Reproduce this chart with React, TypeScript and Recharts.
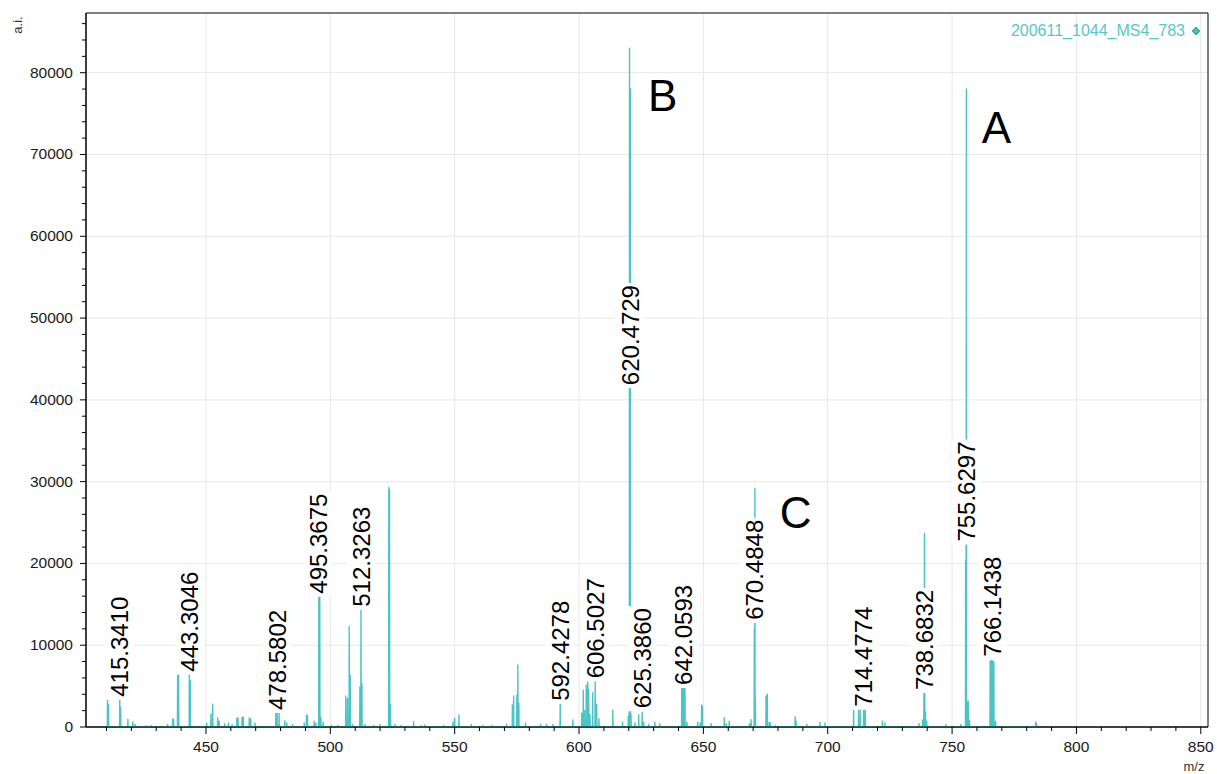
import { LineChart, Line, XAxis, YAxis, CartesianGrid, ReferenceArea } from "recharts";

// m/z and intensity of every visible peak
const peakMz = [
    410.4, 410.8, 415.34, 415.7, 418.6, 420.6, 421.5, 425.9, 428.0, 434.6, 436.6, 437.0, 438.6, 439.0,
    443.3, 443.7, 450.3, 452.0, 452.7, 454.7, 455.3, 457.5, 459.0, 460.5, 462.4, 462.9, 464.5, 465.0,
    467.4, 468.0, 469.7, 478.1, 478.58, 479.4, 481.7, 482.5, 484.8, 489.5, 490.4, 490.8, 493.5, 494.2,
    495.37, 495.75, 496.2, 497.1, 500.5, 503.0, 506.2, 506.9, 507.6, 508.0, 508.9, 511.9, 512.33, 512.7,
    514.0, 517.5, 520.0, 523.5, 523.8, 524.2, 526.0, 528.5, 533.5, 536.5, 538.0, 545.5, 549.3, 550.0,
    551.7, 556.7, 561.4, 565.0, 570.8, 573.2, 573.7, 575.0, 575.4, 575.8, 578.5, 584.5, 587.0, 589.5,
    592.43, 597.5, 601.1, 601.7, 602.2, 602.9, 603.5, 603.9, 604.4, 605.5, 606.5, 607.1, 608.0, 613.6,
    617.5, 619.8, 620.1, 620.3, 620.47, 620.65, 620.9, 622.5, 624.0, 625.39, 626.0, 628.0, 630.5, 632.5,
    641.3, 641.6, 641.9, 642.06, 642.3, 642.6, 643.4, 647.7, 648.7, 649.3, 649.6, 653.1, 658.4, 659.2,
    660.4, 668.5, 669.2, 670.48, 670.7, 670.9, 675.2, 675.7, 676.5, 677.0, 679.0, 686.9, 687.3, 691.6,
    696.9, 698.9, 710.4, 712.4, 713.1, 714.48, 715.1, 722.0, 723.0, 736.7, 738.1, 738.68, 738.9, 738.95,
    739.3, 739.8, 747.5, 753.5, 755.45, 755.63, 755.75, 756.0, 756.5, 757.0, 765.3, 765.55, 765.8, 766.05,
    766.3, 766.55, 766.8, 767.5, 783.6, 784.0,
];
const peakIntensity = [
    3600, 2800, 3600, 2400, 940, 650, 300, 150, 150, 300, 980, 900, 6500, 6400,
    6500, 5700, 450, 1600, 2800, 1140, 700, 400, 500, 300, 1100, 1100, 1200, 1200,
    1100, 1000, 500, 1870, 1900, 1900, 760, 500, 300, 500, 1430, 1400, 700, 500,
    16400, 16200, 1200, 600, 200, 200, 3800, 3500, 12300, 6350, 300, 4900, 14400, 5300,
    300, 200, 300, 29300, 29000, 2700, 300, 200, 650, 200, 250, 200, 650, 1060,
    1470, 300, 200, 200, 300, 2700, 3800, 3900, 7580, 2900, 500, 300, 300, 300,
    2900, 850, 1700, 4500, 2000, 5100, 5750, 4600, 1500, 4200, 5700, 2800, 1000, 2050,
    600, 1300, 1700, 83000, 41800, 78000, 1500, 500, 1500, 1800, 600, 300, 600, 400,
    4800, 4850, 4850, 4900, 4850, 4750, 600, 600, 500, 2700, 2500, 400, 1140, 400,
    700, 400, 900, 12000, 29200, 3500, 3800, 4000, 600, 500, 200, 1260, 700, 300,
    600, 500, 2240, 2240, 2200, 2240, 2100, 700, 500, 400, 850, 4400, 23700, 22800,
    1870, 700, 300, 300, 20400, 22500, 78000, 3000, 3200, 800, 8000, 8100, 8050, 8100,
    8000, 8050, 7900, 700, 650, 400,
];

// annotated peaks and the intensity where each label starts
const labelText = [
    "415.3410", "443.3046", "478.5802", "495.3675", "512.3263", "592.4278", "606.5027", "620.4729",
    "625.3860", "642.0593", "670.4848", "714.4774", "738.6832", "755.6297", "766.1438",
];
const labelBase = [3700, 6760, 2080, 16300, 14700, 3200, 5950, 41800, 2290, 5140, 13100, 2480, 4530, 22670, 8600];

const letterText = ["B", "A", "C"];
const letterMz = [627.7, 761.9, 680.7];
const letterBase = [75280, 71360, 24360];

const xMajorTicks = [450, 500, 550, 600, 650, 700, 750, 800, 850];
const yMajorTicks = [0, 10000, 20000, 30000, 40000, 50000, 60000, 70000, 80000];
const xAllTicks = Array.from({ length: 45 }, (_, i) => 410 + i * 10);
const yAllTicks = Array.from({ length: 44 }, (_, i) => i * 2000);

const X_DOMAIN = [401.76, 852.9];
const Y_DOMAIN = [0, 87300];

const TEAL = "#4cc4c4";
const FONT = "'Liberation Sans', Arial, sans-serif";

const spectrum = peakMz.flatMap((m, i) => [
    { mz: m - 0.08, ai: 0 },
    { mz: m, ai: peakIntensity[i] },
    { mz: m + 0.08, ai: 0 },
]);
const labelPoints = labelText.map((t, i) => ({ mz: Number(t), ai: labelBase[i], text: t }));
const letterPoints = letterText.map((t, i) => ({ mz: letterMz[i], ai: letterBase[i], text: t }));

const XTick = ({ x, y, payload }: any) => {
    const major = xMajorTicks.includes(payload.value);
    return (
        <g>
            <line x1={x} x2={x} y1={y} y2={y + (major ? 7 : 4)} stroke="#000" />
            {major && (
                <text x={x} y={y + 25} textAnchor="middle" fontSize={15.5} fontFamily={FONT} fill="#1a1a1a">
                    {payload.value}
                </text>
            )}
        </g>
    );
};

const YTick = ({ x, y, payload }: any) => {
    const major = yMajorTicks.includes(payload.value);
    return (
        <g>
            <line x1={x - (major ? 6 : 4)} x2={x} y1={y} y2={y} stroke="#000" />
            {major && (
                <text x={x - 13} y={y + 5} textAnchor="end" fontSize={15.5} fontFamily={FONT} fill="#1a1a1a">
                    {payload.value}
                </text>
            )}
        </g>
    );
};

const PeakLabel = (props: any) => {
    const { cx, cy, payload, index } = props;
    if (cx == null || cy == null) return null;
    const len = (payload.text.length - 1) * 13.34 + 6.67;
    return (
        <g key={`lbl-${index}`} transform={`translate(${cx},${cy}) rotate(-90)`}>
            <rect x={-3} y={-14.5} width={len + 5} height={29} fill="#fff" />
            <text x={0} y={0} dy="0.36em" fontSize={24} fontFamily={FONT} fill="#000">
                {payload.text}
            </text>
        </g>
    );
};

const Letter = (props: any) => {
    const { cx, cy, payload, index } = props;
    if (cx == null || cy == null) return null;
    return (
        <text key={`let-${index}`} x={cx} y={cy} fontSize={44} fontFamily={FONT} fill="#000">
            {payload.text}
        </text>
    );
};

export default function App() {
    return (
        <div style={{ position: "absolute", left: 0, top: 0, width: 1217, height: 774, background: "#fff" }}>
            <LineChart width={1217} height={774} margin={{ top: 13, right: 9, left: 0, bottom: 0 }}>
                <CartesianGrid
                    stroke="#e8e8e8"
                    horizontalValues={yMajorTicks.slice(1)}
                    verticalValues={xMajorTicks}
                />
                <XAxis
                    type="number"
                    dataKey="mz"
                    domain={X_DOMAIN}
                    allowDataOverflow
                    ticks={xAllTicks}
                    interval={0}
                    tickSize={0}
                    tickMargin={0}
                    tickLine={false}
                    tick={<XTick />}
                    axisLine={{ stroke: "#000" }}
                    height={47}
                />
                <YAxis
                    type="number"
                    domain={Y_DOMAIN}
                    allowDataOverflow
                    ticks={yAllTicks}
                    interval={0}
                    tickSize={0}
                    tickMargin={0}
                    tickLine={false}
                    tick={<YTick />}
                    axisLine={{ stroke: "#000" }}
                    width={86}
                />
                <ReferenceArea
                    x1={X_DOMAIN[0]}
                    x2={X_DOMAIN[1]}
                    y1={Y_DOMAIN[0]}
                    y2={Y_DOMAIN[1]}
                    fill="none"
                    stroke="#000"
                    ifOverflow="visible"
                />
                <Line
                    data={spectrum}
                    dataKey="ai"
                    type="linear"
                    stroke={TEAL}
                    strokeWidth={1.4}
                    strokeLinejoin="round"
                    dot={false}
                    activeDot={false}
                    isAnimationActive={false}
                />
                <Line
                    data={labelPoints}
                    dataKey="ai"
                    stroke="none"
                    dot={PeakLabel}
                    activeDot={false}
                    isAnimationActive={false}
                />
                <Line
                    data={letterPoints}
                    dataKey="ai"
                    stroke="none"
                    dot={Letter}
                    activeDot={false}
                    isAnimationActive={false}
                />
            </LineChart>
            <div
                style={{
                    position: "absolute", left: 3, top: 17, width: 30, height: 16, lineHeight: "16px",
                    textAlign: "center", fontSize: 13, fontFamily: FONT, color: "#333", transform: "rotate(-90deg)",
                }}
            >
                a.i.
            </div>
            <div
                style={{
                    position: "absolute", left: 1174, top: 759, width: 40, height: 16, lineHeight: "16px",
                    textAlign: "center", fontSize: 13, fontFamily: FONT, color: "#333",
                }}
            >
                m/z
            </div>
            <div
                style={{
                    position: "absolute", left: 900, top: 22, width: 285, height: 18, lineHeight: "18px",
                    textAlign: "right", fontSize: 16, fontFamily: FONT, color: "#55c8c8",
                }}
            >
                200611_1044_MS4_783
            </div>
            <div
                style={{
                    position: "absolute", left: 1193, top: 28, width: 6, height: 6, background: TEAL,
                    border: "1px solid #2f9e9e", transform: "rotate(45deg)", boxSizing: "border-box",
                }}
            />
        </div>
    );
}
